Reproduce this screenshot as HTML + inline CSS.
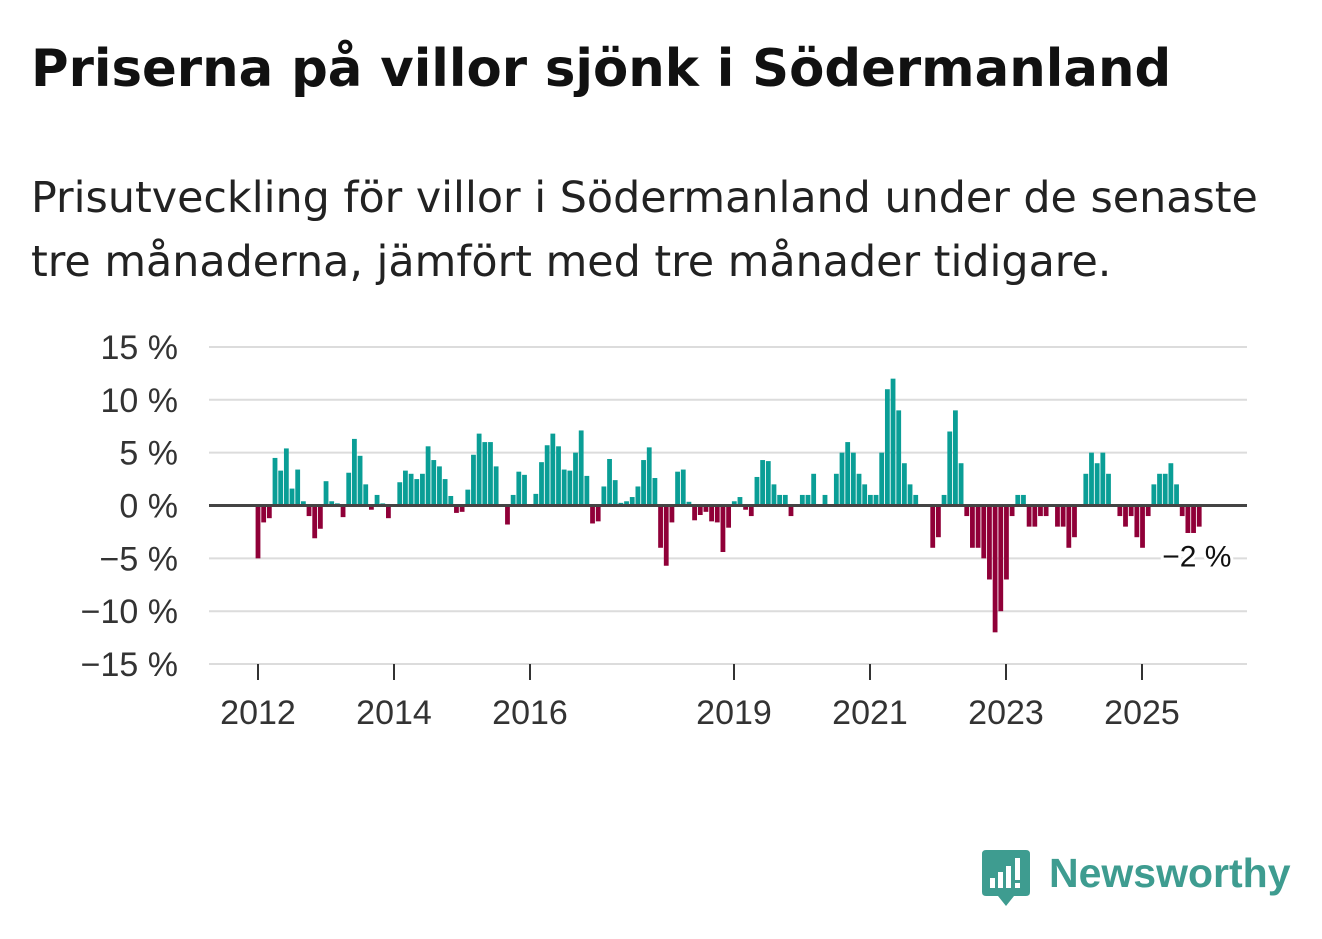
<!DOCTYPE html>
<html><head><meta charset="utf-8">
<style>
body{margin:0;background:#fff;width:1322px;height:939px;overflow:hidden;font-family:"Liberation Sans",sans-serif;}
#title{position:absolute;left:31px;top:39px;font-size:51.3px;font-weight:bold;color:#111;margin:0;font-family:"DejaVu Sans",sans-serif;white-space:nowrap;}
#sub{position:absolute;left:31px;top:166px;font-size:42.8px;line-height:64px;color:#222;width:1290px;margin:0;font-family:"DejaVu Sans",sans-serif;white-space:nowrap;}
svg{position:absolute;left:0;top:0;}
</style></head><body>
<h1 id="title">Priserna på villor sjönk i Södermanland</h1>
<p id="sub">Prisutveckling för villor i Södermanland under de senaste<br>tre månaderna, jämfört med tre månader tidigare.</p>
<svg id="chart" width="1322" height="939"></svg>
<script>
const yTicks=[15,10,5,0,-5,-10,-15];
const xTickLabels=["2012","2014","2016","2019","2021","2023","2025"];
const xTickYears=[2012,2014,2016,2019,2021,2023,2025];
const values=[-5,-1.6,-1.2,4.5,3.3,5.4,1.6,3.4,0.4,-1.0,-3.1,-2.2,2.3,0.4,0.2,-1.1,3.1,6.3,4.7,2.0,-0.4,1.0,0.2,-1.2,
0,2.2,3.3,3.0,2.5,3.0,5.6,4.3,3.7,2.5,0.9,-0.7,-0.6,1.5,4.8,6.8,6.0,6.0,3.7,0,-1.8,1.0,3.2,2.9,
0,1.1,4.1,5.7,6.8,5.6,3.4,3.3,5.0,7.1,2.8,-1.7,-1.5,1.8,4.4,2.4,0.25,0.4,0.8,1.8,4.3,5.5,2.6,-4.0,
-5.7,-1.6,3.2,3.4,0.35,-1.4,-0.9,-0.6,-1.5,-1.6,-4.4,-2.1,0.4,0.8,-0.4,-1.0,2.7,4.3,4.2,2.0,1.0,1.0,-1.0,0,
1.0,1.0,3.0,0,1.0,0,3.0,5.0,6.0,5.0,3.0,2.0,1.0,1.0,5.0,11,12,9,4,2,1,0,0,-4,
-3,1,7,9,4,-1,-4,-4,-5,-7,-12,-10,-7,-1,1,1,-2,-2,-1,-1,0,-2,-2,-4,
-3,0,3,5,4,5,3,0,-1,-2,-1,-3,-4,-1,2,3,3,4,2,-1,-2.6,-2.6,-2];
const lastLabel="−2 %";
const svg=document.getElementById('chart');
const NS="http://www.w3.org/2000/svg";
const x0=209,x1=1247;
function yScale(v){return 505.5-v*10.57;}
function xMonth(i){return 258+i*5.67;}
function xYear(y){return 258+(y-2012)*68;}
function mk(t,a){const e=document.createElementNS(NS,t);for(const k in a)e.setAttribute(k,a[k]);svg.appendChild(e);return e;}
yTicks.forEach(v=>{
  if(v!==0){const g=mk('line',{x1:x0,x2:x1,y1:yScale(v),y2:yScale(v),stroke:'#dcdcdc','stroke-width':2});
  
  }
  const t=mk('text',{x:178,y:yScale(v)+12,'text-anchor':'end','font-size':34,fill:'#333','font-family':'Liberation Sans, sans-serif'});
  t.textContent=(v<0?'−'+(-v):v)+' %';
  
  
});
values.forEach((v,i)=>{
  const y=yScale(Math.max(v,0)),h=Math.abs(yScale(v)-yScale(0));
  const r=mk('rect',{x:xMonth(i)-2.4,y:y,width:4.8,height:h,fill:v>=0?'#0a9e96':'#900038'});
  
  
});
const z=mk('line',{x1:x0,x2:x1,y1:yScale(0),y2:yScale(0),stroke:'#444','stroke-width':3});


const ax=mk('line',{x1:x0,x2:x1,y1:664,y2:664,stroke:'#dcdcdc','stroke-width':1.5});


xTickYears.forEach((yr,k)=>{
  const x=xYear(yr);
  const tk=mk('line',{x1:x,x2:x,y1:664,y2:680,stroke:'#333','stroke-width':2});
  
  
  const t=mk('text',{x:x,y:724,'text-anchor':'middle','font-size':34,fill:'#333','font-family':'Liberation Sans, sans-serif'});
  t.textContent=xTickLabels[k];
  
  
});
const li=values.length-1;
const lb=mk('text',{x:xMonth(li)-37,y:yScale(values[li])+40,'font-size':30,fill:'#111',stroke:'#fff','stroke-width':6,'paint-order':'stroke','font-family':'Liberation Sans, sans-serif'});
lb.textContent=lastLabel;


</script>
<div style="position:absolute;left:982px;top:850px;width:320px;height:60px;">
  <svg width="50" height="60" style="position:absolute;left:0;top:0">
    <path d="M0 4 Q0 0 4 0 H44 Q48 0 48 4 V42 Q48 46 44 46 H32 L24 56 L16 46 H4 Q0 46 0 42Z" fill="#3e9c90"/>
    <rect x="8" y="28" width="5" height="10" fill="#fff"/><rect x="16" y="22" width="5" height="16" fill="#fff"/>
    <rect x="24" y="16" width="5" height="22" fill="#fff"/><rect x="33" y="8" width="5" height="22" fill="#fff"/>
    <rect x="33" y="33" width="5" height="5" fill="#fff"/>
  </svg>
  <span style="position:absolute;left:67px;top:0px;font-size:41px;font-weight:bold;color:#3e9c90;">Newsworthy</span>
</div>
</body></html>
